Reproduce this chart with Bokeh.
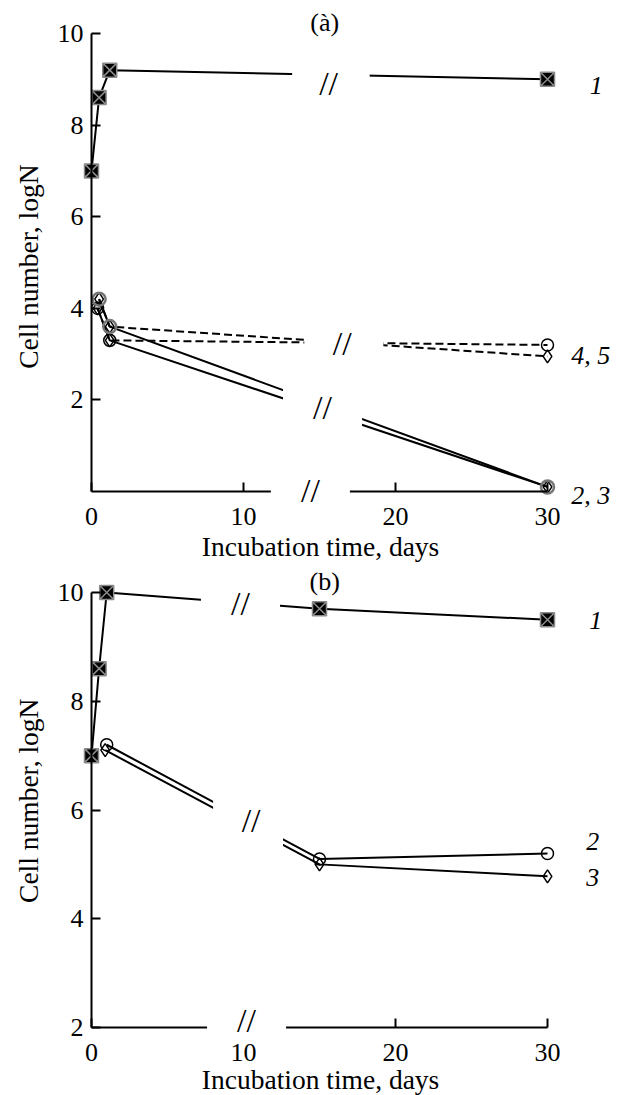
import math
from bokeh.plotting import figure
from bokeh.layouts import column
from bokeh.models import Label, BoxAnnotation, FixedTicker
from bokeh.embed import file_html
from bokeh.resources import INLINE

# ---------------- data ----------------
x_ticks = [0, 10, 20, 30]
y_ticks = [2, 4, 6, 8, 10]
x_title = "Incubation time, days"
y_title = "Cell number, logN"

# panel (a)
a_days_1 = [0, 0.5, 1.2, 30]
a_log_1 = [7.0, 8.6, 9.2, 9.0]
a_days_2 = [0.5, 1.2, 30]
a_log_2 = [4.2, 3.6, 0.1]      # circles, solid
a_days_3 = [0.4, 1.2, 30]
a_log_3 = [4.0, 3.3, 0.1]      # diamonds, solid
a_days_4 = [0.4, 1.2, 30]
a_log_4 = [4.0, 3.3, 3.2]      # circles, dashed
a_days_5 = [0.5, 1.2, 30]
a_log_5 = [4.2, 3.6, 2.95]     # diamonds, dashed

# panel (b)
b_days_1 = [0, 0.5, 1.0, 15, 30]
b_log_1 = [7.0, 8.6, 10.0, 9.7, 9.5]
b_days_2 = [1.0, 15, 30]
b_log_2 = [7.2, 5.1, 5.2]      # circles
b_days_3 = [0.9, 15, 30]
b_log_3 = [7.1, 5.0, 4.78]     # diamonds

SERIF = "Liberation Serif"
FS = "26px"
W = 617
KX = 15.2            # px per day
X0 = 91              # px of day 0
x_range = (-X0 / KX, (W - X0) / KX)


def make_fig(height, y_range, y_axis_at, y_bounds):
    p = figure(width=W, height=height, x_range=x_range, y_range=y_range,
               output_backend="svg", toolbar_location=None,
               min_border=0, min_border_left=0, min_border_right=0,
               min_border_top=0, min_border_bottom=0)
    p.grid.visible = False
    p.outline_line_color = None
    for ax, ticks in ((p.xaxis, x_ticks), (p.yaxis, y_ticks)):
        ax.ticker = FixedTicker(ticks=ticks)
        ax.major_tick_in = 9
        ax.major_tick_out = 0
        ax.major_tick_line_width = 2
        ax.minor_tick_line_color = None
        ax.axis_line_width = 2
        ax.major_label_text_font = SERIF
        ax.major_label_text_font_size = FS
        ax.major_label_text_color = "black"
    p.xaxis.fixed_location = y_axis_at
    p.xaxis.bounds = (0, 30)
    p.yaxis.fixed_location = 0
    p.yaxis.bounds = y_bounds
    p.xaxis.major_label_standoff = 16
    p.yaxis.major_label_standoff = 8
    return p


def label(p, x, y, text, size=FS, style="normal", angle=0):
    p.add_layout(Label(x=x, y=y, text=text, text_font=SERIF, text_font_size=size,
                       text_font_style=style, text_align="center",
                       text_baseline="middle", angle=angle, text_color="black"))


def mask(p, l, r, b, t):
    p.add_layout(BoxAnnotation(left=l, right=r, bottom=b, top=t, fill_color="white",
                               fill_alpha=1.0, line_alpha=0, level="annotation"))


def brk(p, x, y):
    label(p, x, y, "//", size="34px")


# ---------------- panel (a) ----------------
KA = 45.8            # px per log unit
HA = 562
pa = make_fig(HA, (-(HA - 491) / KA, 491 / KA), 0, (0, 10))
pa.line(a_days_1, a_log_1, line_width=2, color="black")
pa.line(a_days_2, a_log_2, line_width=2, color="black")
pa.line(a_days_3, a_log_3, line_width=2, color="black")
pa.line(a_days_4, a_log_4, line_width=2, color="black", line_dash="8 4")
pa.line(a_days_5, a_log_5, line_width=2, color="black", line_dash="8 4")
# gaps of the broken time axis
pa.quad(left=[13.2, 14.0, 12.6], right=[18.3, 19.2, 17.8],
        bottom=[8.7, 2.95, 1.0], top=[9.5, 3.6, 2.6],
        fill_color="white", line_color=None)
pa.scatter(a_days_3, a_log_3, marker="diamond", size=13, fill_color=None,
           line_color="black", line_width=1.5)
pa.scatter(a_days_5, a_log_5, marker="diamond", size=13, fill_color=None,
           line_color="black", line_width=1.5)
pa.scatter(a_days_4, a_log_4, marker="circle", size=12, fill_color=None,
           line_color="black", line_width=1.5)
pa.scatter(a_days_2, a_log_2, marker="circle", size=13, fill_color=None,
           line_color="#777777", line_width=2.5)
pa.scatter(a_days_1, a_log_1, marker="square_x", size=14, fill_color="black",
           line_color="#8a8a8a", line_width=1.5)
mask(pa, 11.8, 17.0, -0.1, 0.25)
brk(pa, 15.6, 8.91)
brk(pa, 16.5, 3.23)
brk(pa, 15.2, 1.83)
brk(pa, 14.4, 0.02)
label(pa, 33.2, 8.86, "1", style="italic")
label(pa, 32.85, 2.97, "4, 5", style="italic")
label(pa, 32.85, -0.09, "2, 3", style="italic")
label(pa, 15.34, 10.24, "(à)")
label(pa, 15.07, -1.19, x_title, size="27.5px")
label(pa, -4.14, 4.91, y_title, size="27.5px", angle=math.pi / 2)

# ---------------- panel (b) ----------------
KB = 54.375
HB = 1095 - HA
pb = make_fig(HB, (2 - (HB - 465) / KB, 10 + 30 / KB), 2, (2, 10))
pb.line(b_days_1, b_log_1, line_width=2, color="black")
pb.line(b_days_2, b_log_2, line_width=2, color="black")
pb.line(b_days_3, b_log_3, line_width=2, color="black")
pb.quad(left=[7.2, 8.0], right=[12.4, 12.6], bottom=[9.6, 5.1], top=[10.05, 6.5],
        fill_color="white", line_color=None)
pb.scatter(b_days_3, b_log_3, marker="diamond", size=13, fill_color=None,
           line_color="black", line_width=1.5)
pb.scatter(b_days_2, b_log_2, marker="circle", size=12, fill_color=None,
           line_color="black", line_width=1.5)
pb.scatter(b_days_1, b_log_1, marker="square_x", size=14, fill_color="black",
           line_color="#8a8a8a", line_width=1.5)
mask(pb, 7.6, 12.8, 1.9, 2.2)
brk(pb, 9.8, 9.79)
brk(pb, 10.5, 5.8)
brk(pb, 10.2, 2.13)
label(pb, 33.18, 9.49, "1", style="italic")
label(pb, 32.98, 5.42, "2", style="italic")
label(pb, 32.98, 4.76, "3", style="italic")
label(pb, 15.34, 10.2, "(b)")
label(pb, 15.07, 1.05, x_title, size="27.5px")
label(pb, -4.14, 6.17, y_title, size="27.5px", angle=math.pi / 2)

layout = column(pa, pb, spacing=0)
open("out.html", "w").write(file_html(layout, INLINE))
